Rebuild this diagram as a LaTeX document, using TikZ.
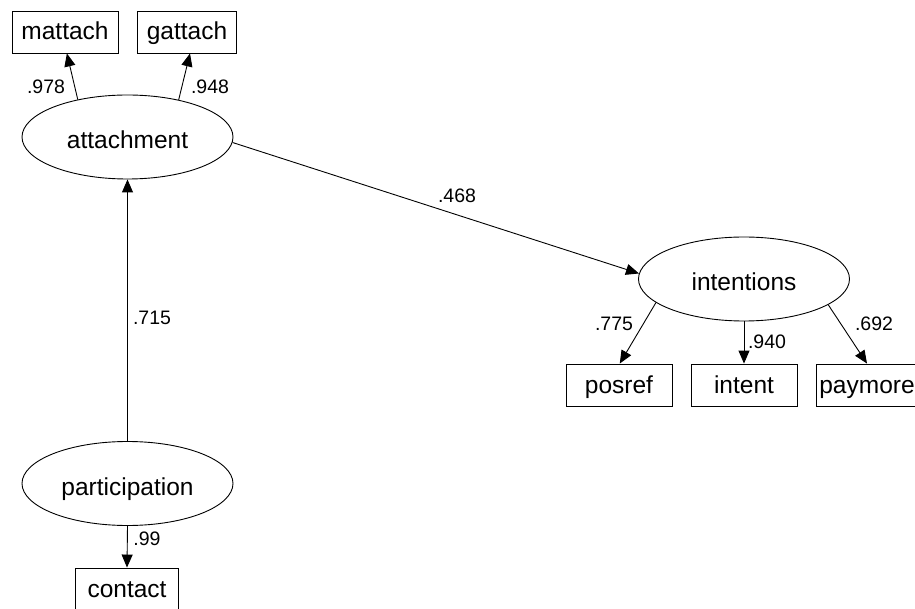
\documentclass[tikz,border=0pt]{standalone}
\usepackage{fontspec}
\setmainfont{Liberation Sans}
\usetikzlibrary{shapes.geometric,arrows.meta,calc}
\tikzset{
  latent/.style={draw,ellipse,line width=0.9pt,minimum width=211pt,minimum height=84pt,inner sep=0pt,text height=24pt,text depth=0pt,font=\fontsize{24.5}{28}\selectfont},
  observed/.style={draw,rectangle,line width=0.9pt,minimum width=106pt,minimum height=42pt,inner sep=0pt,text height=17pt,text depth=1pt,font=\fontsize{24.5}{28}\selectfont},
  coef/.style={inner sep=0pt,font=\fontsize{19.5}{22}\selectfont},
  regpath/.style={line width=0.9pt,-{Triangle[length=13pt,width=11pt]}}
}
\begin{document}
\begin{tikzpicture}[x=1pt,y=-1pt]
\useasboundingbox (0,0) rectangle (915,609);
\clip (0,0) rectangle (915,609);
\node[observed] (mattach) at (65,32) {mattach};
\node[observed,minimum width=99pt] (gattach) at (187,32) {gattach};
\node[latent] (attachment) at (127.5,137) {attachment};
\node[latent] (intentions) at (744,279) {intentions};
\node[latent] (participation) at (127.5,483.5) {participation};
\node[observed] (posref) at (619,385) {posref};
\node[observed] (intent) at (744,385) {intent};
\node[observed,minimum width=102pt] (paymore) at (867,385) {paymore};
\node[observed,minimum width=103pt] (contact) at (127,589) {contact};

\draw[regpath] (attachment.143) -- (mattach.-85);
\draw[regpath] (attachment.36) -- (gattach.-82);
\draw[regpath] (attachment.-3) -- (intentions.177);
\draw[regpath] (participation.north) -- (attachment.south);
\draw[regpath] (participation.south) -- (contact.north);
\draw[regpath] (intentions.-165) -- (posref.88);
\draw[regpath] (intentions.south) -- (intent.north);
\draw[regpath] (intentions.-17) -- (paymore.north);

\node[coef] (l1) at (46,87) {.978};
\node[coef] (l2) at (210,87) {.948};
\node[coef] (l3) at (457,196) {.468};
\node[coef] (l4) at (152,318) {.715};
\node[coef] (l5) at (614,324) {.775};
\node[coef] (l6) at (767,342) {.940};
\node[coef] (l7) at (874,324) {.692};
\node[coef] (l8) at (147,539) {.99};
\end{tikzpicture}
\end{document}
